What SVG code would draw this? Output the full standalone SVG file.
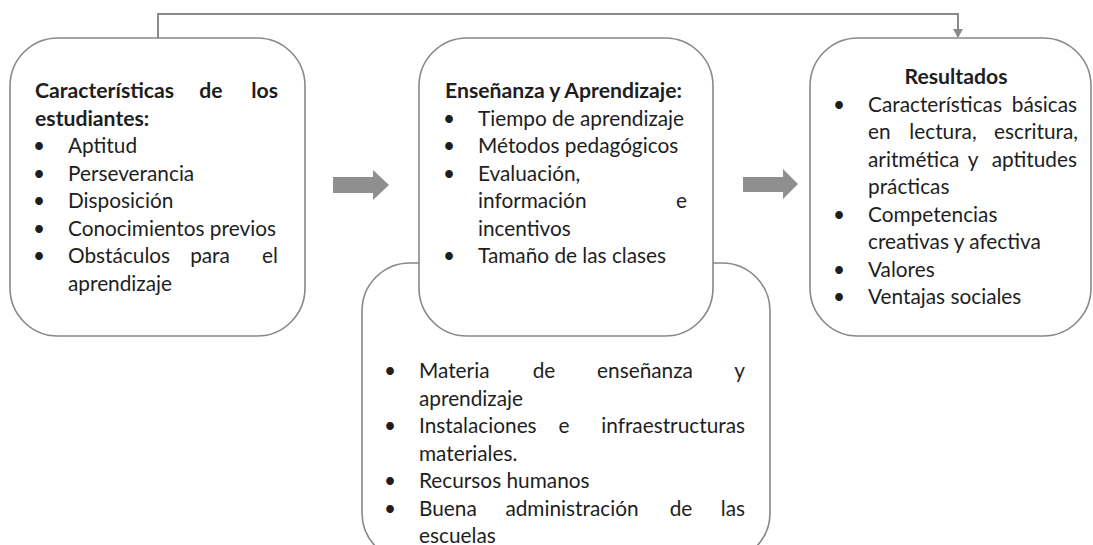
<svg xmlns="http://www.w3.org/2000/svg" width="1093" height="545" viewBox="0 0 1093 545">
<defs>
<marker id="ah" markerWidth="9" markerHeight="10" refX="8" refY="5" orient="auto" markerUnits="userSpaceOnUse">
<path d="M0,0 L9,5 L0,10 Z" fill="#8a8a8a"/>
</marker>
<style>
.box{fill:#fff;stroke:#888;stroke-width:1.6}
.t{font-family:Lato,"Open Sans",sans-serif;font-size:20.8px;fill:#1e1e1e}
.b{font-weight:bold;font-size:21.2px}
.blk{fill:#8f8f8f}
</style>
</defs>
<rect width="1093" height="545" fill="#fff"/>
<g id="connectors">
<path d="M158,38 V14 H958 V37" fill="none" stroke="#8a8a8a" stroke-width="2" marker-end="url(#ah)"/>
<polygon class="blk" points="333,177 373,177 373,170 389,185 373,200 373,193 333,193"/>
<polygon class="blk" points="743,177 783,177 783,169 798,184 783,199 783,192 743,192"/>
</g>
<g id="node-recursos">
<rect class="box" x="362" y="263" width="408" height="298" rx="48"/>
<g class="t">
<text x="390" y="378" text-anchor="middle">•</text><text x="419" y="378">Materia</text><text x="544" y="378" text-anchor="middle">de</text><text x="645" y="378" text-anchor="middle">enseñanza</text><text x="745" y="378" text-anchor="end">y</text>
<text x="419" y="405.5">aprendizaje</text>
<text x="390" y="433" text-anchor="middle">•</text><text x="419" y="433">Instalaciones</text><text x="564" y="433" text-anchor="middle">e</text><text x="745" y="433" text-anchor="end">infraestructuras</text>
<text x="419" y="460.5">materiales.</text>
<text x="390" y="488" text-anchor="middle">•</text><text x="419" y="488">Recursos humanos</text>
<text x="390" y="515.5" text-anchor="middle">•</text><text x="419" y="515.5">Buena</text><text x="572" y="515.5" text-anchor="middle">administración</text><text x="681" y="515.5" text-anchor="middle">de</text><text x="745" y="515.5" text-anchor="end">las</text>
<text x="419" y="543">escuelas</text>
</g>
</g>
<g id="node-estudiantes">
<rect class="box" x="10" y="38" width="295" height="298" rx="48"/>
<g class="t">
<text class="b" x="35" y="98">Características</text><text class="b" x="211" y="98" text-anchor="middle">de</text><text class="b" x="278" y="98" text-anchor="end">los</text>
<text class="b" x="35" y="125.5">estudiantes:</text>
<text x="39" y="153" text-anchor="middle">•</text><text x="68" y="153">Aptitud</text>
<text x="39" y="180.5" text-anchor="middle">•</text><text x="68" y="180.5">Perseverancia</text>
<text x="39" y="208" text-anchor="middle">•</text><text x="68" y="208">Disposición</text>
<text x="39" y="235.5" text-anchor="middle">•</text><text x="68" y="235.5">Conocimientos previos</text>
<text x="39" y="263" text-anchor="middle">•</text><text x="68" y="263">Obstáculos</text><text x="210" y="263" text-anchor="middle">para</text><text x="278" y="263" text-anchor="end">el</text>
<text x="68" y="290.5">aprendizaje</text>
</g>
</g>
<g id="node-ensenanza">
<rect class="box" x="419" y="38" width="294" height="298" rx="48"/>
<g class="t">
<text class="b" x="445" y="98">Enseñanza y Aprendizaje:</text>
<text x="449" y="125.5" text-anchor="middle">•</text><text x="478" y="125.5">Tiempo de aprendizaje</text>
<text x="449" y="153" text-anchor="middle">•</text><text x="478" y="153">Métodos pedagógicos</text>
<text x="449" y="180.5" text-anchor="middle">•</text><text x="478" y="180.5">Evaluación,</text>
<text x="478" y="208">información</text><text x="687" y="208" text-anchor="end">e</text>
<text x="478" y="235.5">incentivos</text>
<text x="449" y="263" text-anchor="middle">•</text><text x="478" y="263">Tamaño de las clases</text>
</g>
</g>
<g id="node-resultados">
<rect class="box" x="810" y="38" width="281" height="298" rx="48"/>
<g class="t">
<text class="b" x="956" y="84" text-anchor="middle">Resultados</text>
<text x="839" y="111.5" text-anchor="middle">•</text><text x="868" y="111.5">Características</text><text x="1077" y="111.5" text-anchor="end">básicas</text>
<text x="868" y="139">en</text><text x="943" y="139" text-anchor="middle">lectura,</text><text x="1078" y="139" text-anchor="end">escritura,</text>
<text x="868" y="166.5">aritmética</text><text x="973" y="166.5" text-anchor="middle">y</text><text x="1077" y="166.5" text-anchor="end">aptitudes</text>
<text x="868" y="194">prácticas</text>
<text x="839" y="221.5" text-anchor="middle">•</text><text x="868" y="221.5">Competencias</text>
<text x="868" y="249">creativas y afectiva</text>
<text x="839" y="276.5" text-anchor="middle">•</text><text x="868" y="276.5">Valores</text>
<text x="839" y="304" text-anchor="middle">•</text><text x="868" y="304">Ventajas sociales</text>
</g>
</g>
</svg>
